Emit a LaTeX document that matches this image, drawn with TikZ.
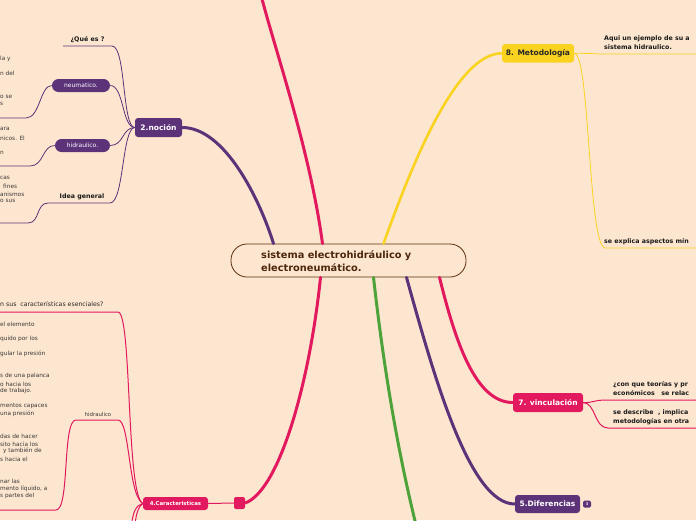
\documentclass[tikz,border=0pt]{standalone}
\usepackage{fontspec}
\setmainfont{DejaVu Sans}
\usetikzlibrary{positioning,calc}
\definecolor{bgpeach}{HTML}{FDE6CF}
\definecolor{mmpurple}{HTML}{5C3279}
\definecolor{mmpink}{HTML}{E2195E}
\definecolor{mmyellow}{HTML}{F9D320}
\definecolor{mmgreen}{HTML}{4EA23A}
\definecolor{mmbrown}{HTML}{5A2E0E}
\definecolor{mmgray}{HTML}{3A3A3A}

\begin{document}
\begin{tikzpicture}[x=1pt, y=-1pt,
  topic/.style={rounded corners=3pt, text=white, inner sep=0pt, font=\bfseries\fontsize{7.5}{9}\selectfont},
  subtopic/.style={rounded corners=6.5pt, fill=mmpurple, text=white, inner sep=0pt, minimum height=13pt, font=\fontsize{6}{7}\selectfont},
  lbl/.style={inner sep=0pt, align=left, text=black!90, font=\bfseries\fontsize{6.3}{9}\selectfont},
  frag/.style={anchor=west, inner sep=0pt, text=mmgray, font=\fontsize{5.8}{7}\selectfont},
  branch/.style={line width=3pt, line cap=round},
  twig/.style={line width=0.8pt}
]
  \useasboundingbox (0,0) rectangle (696,520);
  \fill[bgpeach] (0,0) rectangle (696,520);

  % centre
  \node[draw=mmbrown, line width=0.8pt, rounded corners=16pt, fill=bgpeach,
        minimum width=235pt, minimum height=33pt, inner sep=0pt] (central) at (348.5,260.5) {};
  \node[anchor=west, align=left, inner sep=0pt, text=mmbrown!85!black,
        font=\bfseries\fontsize{9.8}{12.5}\selectfont] (centraltext) at (261,261)
        {sistema electrohidráulico y\\electroneumático.};

  % main topics
  \node[topic, fill=mmpurple, minimum width=47pt, minimum height=19pt] (nocion) at (158.5,127.5) {2.noción};
  \node[topic, fill=mmyellow, text=black!85, minimum width=72pt, minimum height=18.5pt] (metodologia) at (538,53.3) {8. Metodología};
  \node[topic, fill=mmpink, minimum width=70pt, minimum height=19pt] (vinculacion) at (548,402.5) {7. vinculación};
  \node[topic, fill=mmpurple, minimum width=65pt, minimum height=18pt] (diferencias) at (547.5,504) {5.Diferencias};
  \node[topic, fill=mmpink, minimum width=65pt, minimum height=13pt, font=\bfseries\fontsize{5.4}{7}\selectfont] (caracteristicas) at (175.5,503.5) {4.Caracteristicas};
  \node[fill=mmpink, rounded corners=2pt, minimum width=11pt, minimum height=12pt, inner sep=0pt] (carjoin) at (239.5,503) {};
  \node[fill=mmpurple, rounded corners=1.5pt, minimum width=8pt, minimum height=7pt, inner sep=0pt, text=white, font=\bfseries\fontsize{3.5}{4}\selectfont] (badge) at (587,504) {3};

  % branches from the centre
  \draw[branch, mmpink] ([xshift=-26pt]central.north) .. controls (310,150) and (275,50) .. (261,-5);
  \draw[branch, mmpurple] ([xshift=-75pt]central.north) .. controls (260,200) and (225,127.5) .. (nocion.east);
  \draw[branch, mmyellow, line width=2.6pt] ([xshift=35pt]central.north) .. controls (410,170) and (455,53.3) .. (metodologia.west);
  \draw[branch, mmpink] ([xshift=-28pt]central.south) .. controls (310,380) and (280,490) .. (carjoin.east);
  \draw[branch, mmgreen] ([xshift=25pt]central.south) .. controls (385,380) and (400,460) .. (416,525);
  \draw[branch, mmpurple] ([xshift=58pt]central.south) .. controls (435,380) and (470,504) .. (diferencias.west);
  \draw[branch, mmpink] ([xshift=91pt]central.south) .. controls (455,340) and (475,402.5) .. (vinculacion.west);

  % 2.noción
  \node[lbl] (quees) at (87.5,40) {¿Qué es ?};
  \node[subtopic, minimum width=58pt] (neumatico) at (81,85.5) {neumatico.};
  \node[subtopic, minimum width=55pt] (hidraulico) at (82.5,145.5) {hidraulico.};
  \node[lbl] (ideageneral) at (82,197) {Idea general};
  \coordinate (quees-l) at (63,46);
  \coordinate (quees-r) at (112,46);
  \coordinate (idea-l) at (48,203);
  \coordinate (idea-r) at (110,203);
  \coordinate (idea-end) at (-5,223);
  \coordinate (neu-end) at (-5,118);
  \coordinate (hid-end) at (-5,166);
  \draw[twig, mmpurple] (quees-l) -- (quees-r) .. controls (126,46) and (122,127.5) .. (nocion.west);
  \draw[twig, mmpurple] (nocion.west) .. controls (122,127.5) and (124,85.5) .. (neumatico.east);
  \draw[twig, mmpurple] (nocion.west) .. controls (122,127.5) and (124,145.5) .. (hidraulico.east);
  \draw[twig, mmpurple] (nocion.west) .. controls (122,127.5) and (124,203) .. (idea-r) -- (idea-l)
        .. controls (36,203) and (40,223) .. (28,223) -- (idea-end);
  \draw[twig, mmpurple] (neumatico.west) .. controls (40,85.5) and (40,118) .. (26,118) -- (neu-end);
  \draw[twig, mmpurple] (hidraulico.west) .. controls (42,145.5) and (44,166) .. (30,166) -- (hid-end);
  \node[frag] (n1) at (0,59) {la y};
  \node[frag] (n2) at (0,73) {n del};
  \node[frag] (n3) at (0,97) {o se};
  \node[frag] (n4) at (0,104) {s};
  \node[frag] (h1) at (0,129) {ara};
  \node[frag] (h2) at (0,138) {nicos. El};
  \node[frag] (h3) at (0,153) {n};
  \node[frag] (i1) at (0,178) {cas};
  \node[frag] (i2) at (3,186) {fines};
  \node[frag] (i3) at (0,194) {anismos};
  \node[frag] (i4) at (0,201) {o sus};

  % 4.Caracteristicas
  \node[frag, font=\fontsize{6.2}{7}\selectfont, text=black!85] (pregunta) at (0,304) {n sus\ \ características esenciales?};
  \node[inner sep=0pt, text=mmgray, font=\fontsize{5.4}{7}\selectfont] (hidrcar) at (98,414) {hidraulico};
  \coordinate (preg-l) at (-5,312);
  \coordinate (preg-r) at (118,312);
  \coordinate (hidr-l) at (76,420);
  \coordinate (hidr-r) at (118,420);
  \coordinate (hidr-end) at (-5,510);
  \coordinate (car-down1) at (131.5,525);
  \coordinate (car-down2) at (135,525);
  \draw[twig, mmpink, line width=1pt] (preg-l) -- (preg-r) .. controls (132,312) and (126,495) .. (caracteristicas.west);
  \draw[twig, mmpink, line width=1pt] (caracteristicas.west) .. controls (128,495) and (130,420) .. (hidr-r) -- (hidr-l)
        .. controls (62,420) and (70,510) .. (56,510) -- (hidr-end);
  \draw[twig, mmpink, line width=1pt] (caracteristicas.west) .. controls (136,505) and (133,512) .. (car-down1);
  \draw[twig, mmpink, line width=1pt] (caracteristicas.west) .. controls (139,506) and (136,513) .. (car-down2);
  \draw[twig, mmpink, line width=1pt] (caracteristicas.east) -- (carjoin.west);
  \node[frag] (c1) at (0,324) {el elemento};
  \node[frag] (c2) at (0,339) {quido por los};
  \node[frag] (c3) at (0,354) {gular la presión};
  \node[frag] (c4) at (0,376) {s de una palanca};
  \node[frag] (c5) at (0,384) {o hacia los};
  \node[frag] (c6) at (0,391) {de trabajo.};
  \node[frag] (c7) at (0,406) {mentos capaces};
  \node[frag] (c8) at (0,414) {una presión};
  \node[frag] (c9) at (0,436) {das de hacer};
  \node[frag] (c10) at (0,444) {sito hacia los};
  \node[frag] (c11) at (3,451) {y también de};
  \node[frag] (c12) at (0,459) {s hacia el};
  \node[frag] (c13) at (0,481) {nar las};
  \node[frag] (c14) at (0,489) {mento líquido, a};
  \node[frag] (c15) at (0,496) {s partes del};

  % 8. Metodología
  \node[lbl, anchor=west] (ejemplo) at (604,43) {Aqui un ejemplo de su a\\sistema hidraulico.};
  \node[lbl, anchor=west] (aspectos) at (604,242) {se explica aspectos mín};
  \coordinate (ejem-end) at (700,54);
  \coordinate (asp-end) at (700,248);
  \draw[twig, mmyellow] (metodologia.east) .. controls (586,53.3) .. (600,54) -- (ejem-end);
  \draw[twig, mmyellow] (metodologia.east) .. controls (590,53.3) and (588,245) .. (605,248) -- (asp-end);

  % 7. vinculación
  \node[lbl, anchor=west] (teorias) at (613,389) {¿con que teorías y pr\\económicos\ \ \ se relac};
  \node[lbl, anchor=west] (describe) at (613,417) {se describe\ \ , implica\\metodologías en otra};
  \coordinate (teo-end) at (700,400);
  \coordinate (des-end) at (700,428);
  \draw[twig, mmpink, line width=1pt] (vinculacion.east) .. controls (593,403) and (594,400) .. (606,400) -- (teo-end);
  \draw[twig, mmpink, line width=1pt] (vinculacion.east) .. controls (596,403) and (594,428) .. (608,428) -- (des-end);
\end{tikzpicture}
\end{document}
